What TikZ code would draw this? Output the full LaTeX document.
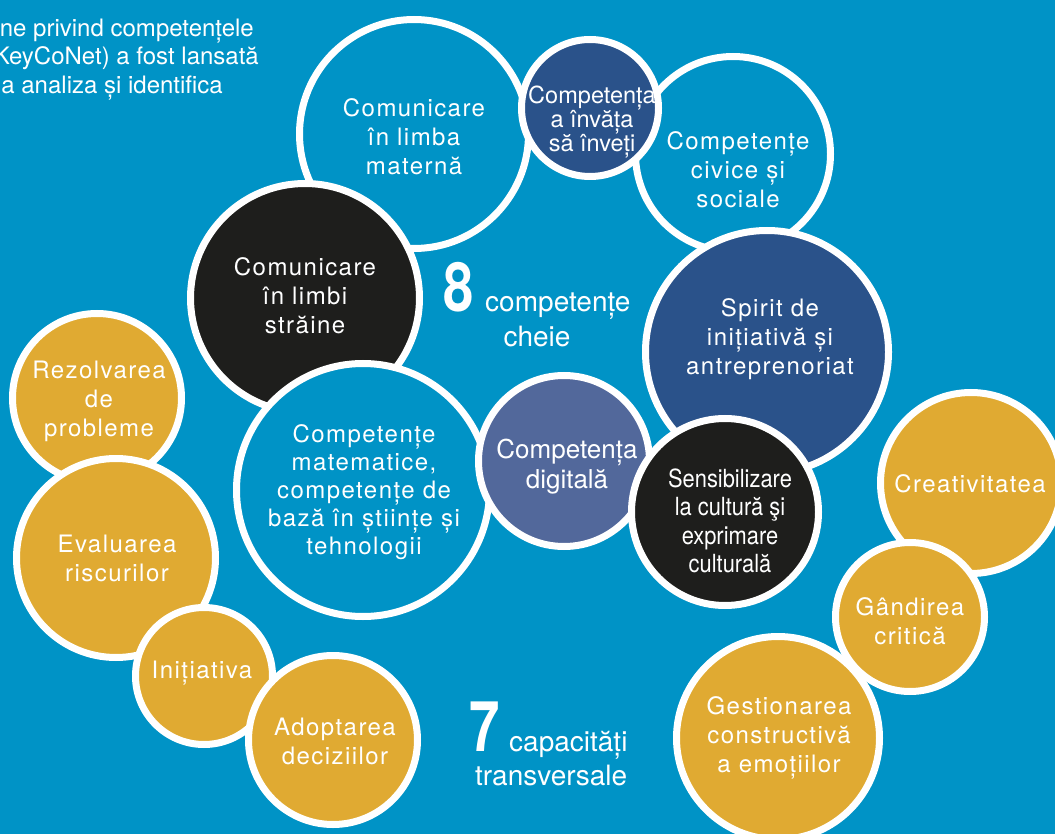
\documentclass[tikz,border=0pt]{standalone}
\usepackage{fontspec}
\usepackage{graphicx}
\newfontfamily\hvs{TeX Gyre Heros}[LetterSpace=6]
\newfontfamily\hvn{TeX Gyre Heros}
\newfontfamily\hvc{TeX Gyre Heros}[FakeStretch=0.875]
\definecolor{bgblue}{RGB}{0,147,198}
\definecolor{navy}{RGB}{42,82,138}
\definecolor{slate}{RGB}{82,104,155}
\definecolor{ink}{RGB}{30,30,28}
\definecolor{gold}{RGB}{224,170,50}
\begin{document}
\begin{tikzpicture}[x=1pt,y=-1pt,
  bub/.style={circle, draw=white, line width=7pt, inner sep=0pt, minimum size=#1},
  tsp/.style={text=white, align=center, inner sep=0pt, font=\hvs\fontsize{24}{29}\selectfont},
  tnr/.style={text=white, align=center, inner sep=0pt},
  plain/.style={text=white, inner sep=0pt, font=\hvn\fontsize{24}{29}\selectfont},
  big/.style={text=white, inner sep=0pt, font=\hvn\fontsize{28}{34}\selectfont}
]
\useasboundingbox (0,0) rectangle (1055,834);
\clip (0,0) rectangle (1055,834);
\fill[bgblue] (0,0) rectangle (1055,834);

% intro text (clipped paragraph)
\node[plain, anchor=base east] (p1) at (254,36.5) {ne privind competențele};
\node[plain, anchor=base east] (p2) at (259,65) {KeyCoNet) a fost lansată};
\node[plain, anchor=base east] (p3) at (223,94) {a analiza și identifica};

% 8 key competences
\node[bub=229, fill=bgblue] (maternal) at (414,134) {};
\node[bub=195, fill=bgblue] (civice) at (733,154) {};
\node[bub=137, fill=navy] (invata) at (590,108) {};
\node[bub=243, fill=navy] (spirit) at (767,352) {};
\node[bub=229, fill=ink] (straine) at (305,298) {};
\node[bub=253, fill=bgblue] (mate) at (363,490) {};
\node[bub=171, fill=slate] (digital) at (564,461) {};
\node[bub=187, fill=ink] (sens) at (725,512) {};

\node[tsp] (lmaternal) at (414,137) {Comunicare\\în limba\\maternă};
\node[tnr, font=\hvn\fontsize{23.5}{24}\selectfont] (linvata) at (592,122) {Competența\\a învăța\\să înveți};
\node[tsp] (lcivice) at (738,170) {Competențe\\civice și\\sociale};
\node[tsp] (lspirit) at (770,339) {Spirit de\\inițiativă și\\antreprenoriat};
\node[tsp] (lstraine) at (305,296) {Comunicare\\în limbi\\străine};
\node[tsp, font=\hvs\fontsize{24}{28}\selectfont] (lmate) at (364,492) {Competențe\\matematice,\\competențe de\\bază în științe și\\tehnologii};
\node[tnr, font=\hvn\fontsize{26}{30}\selectfont] (ldigital) at (567,467) {Competența\\digitală};
\node[tnr, font=\hvc\fontsize{25}{28.5}\selectfont] (lsens) at (730,521) {Sensibilizare\\la cultură şi\\exprimare\\culturală};

% 7 transversal capacities
\node[bub=169, fill=gold] (rez) at (97,398) {};
\node[bub=199, fill=gold] (eval) at (116,558) {};
\node[bub=137, fill=gold] (init) at (204,676) {};
\node[bub=169, fill=gold] (adopt) at (333,740) {};
\node[bub=181, fill=gold] (creat) at (971,483) {};
\node[bub=149, fill=gold] (gand) at (910,617) {};
\node[bub=203, fill=gold] (gest) at (778,738) {};

\node[tsp] (lrez) at (99,401) {Rezolvarea\\de\\probleme};
\node[tsp] (leval) at (117,558) {Evaluarea\\riscurilor};
\node[tsp] (linit) at (202,673) {Inițiativa};
\node[tsp] (ladopt) at (335,741) {Adoptarea\\deciziilor};
\node[tsp] (lcreat) at (970,484) {Creativitatea};
\node[tsp] (lgand) at (910,621) {Gândirea\\critică};
\node[tsp] (lgest) at (779,738) {Gestionarea\\constructivă\\a emoțiilor};

% central labels
\node[text=white, inner sep=0pt, anchor=base west] (eight) at (443,312) {\scalebox{0.8}[1]{\hvn\fontsize{68}{68}\selectfont\bfseries 8}};
\node[big, anchor=base west] (kc1) at (485,312) {competențe};
\node[big, anchor=base] (kc2) at (537,346) {cheie};
\node[text=white, inner sep=0pt, anchor=base west] (seven) at (469,751) {\scalebox{0.78}[1]{\hvn\fontsize{70}{70}\selectfont\bfseries 7}};
\node[big, anchor=base west] (tc1) at (509,751) {capacități};
\node[big, anchor=base west] (tc2) at (475,785) {transversale};
\end{tikzpicture}
\end{document}
